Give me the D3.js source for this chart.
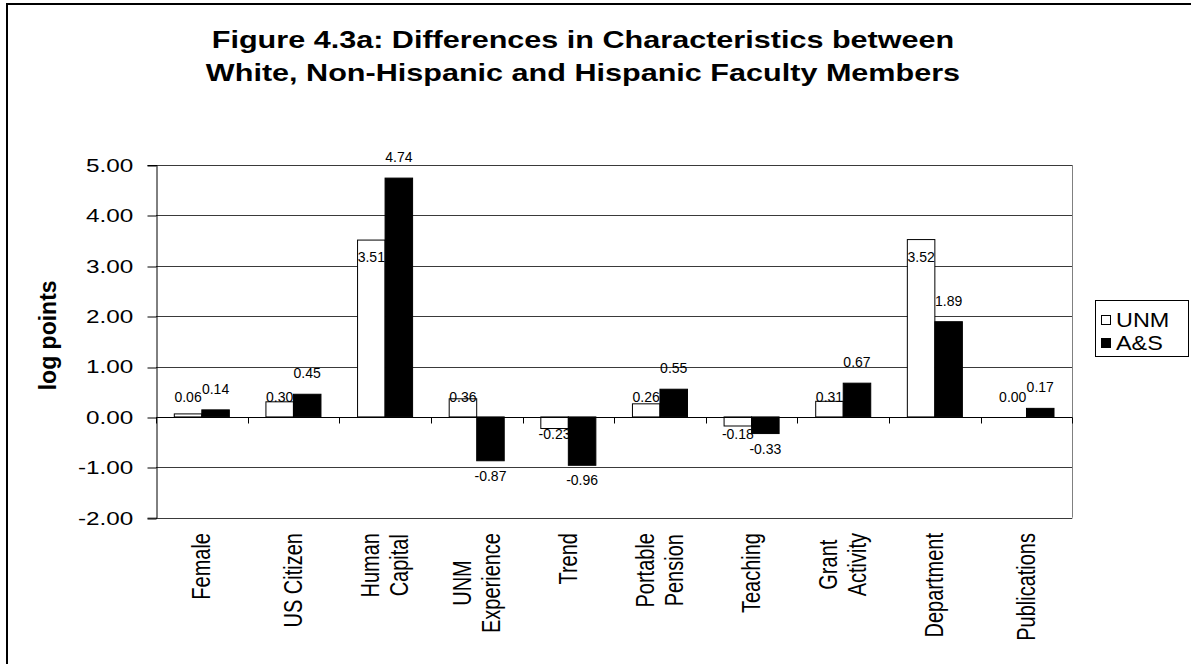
<!DOCTYPE html>
<html>
<head>
<meta charset="utf-8">
<script src="https://cdn.jsdelivr.net/npm/d3@7"></script>
<style>
  html, body { margin: 0; padding: 0; background: #fff; }
  svg { display: block; }
  text { font-family: "Liberation Sans", Arial, sans-serif; fill: #000; }
</style>
</head>
<body>
<svg id="chart" width="1191" height="664"></svg>
<script>
// Characteristic categories (each entry is the list of label lines)
const categories = ["Female", "US Citizen", "Human Capital", "UNM Experience", "Trend",
  "Portable Pension", "Teaching", "Grant Activity", "Department", "Publications"];
const categoryLines = [["Female"], ["US Citizen"], ["Human", "Capital"], ["UNM", "Experience"], ["Trend"],
  ["Portable", "Pension"], ["Teaching"], ["Grant", "Activity"], ["Department"], ["Publications"]];

// Series
const seriesNames = ["UNM", "A&S"];
const unmValues = [0.06, 0.30, 3.51, 0.36, -0.23, 0.26, -0.18, 0.31, 3.52, 0.00];
const asValues  = [0.14, 0.45, 4.74, -0.87, -0.96, 0.55, -0.33, 0.67, 1.89, 0.17];

// Value axis ticks
const yTicks = [-2, -1, 0, 1, 2, 3, 4, 5];

const titleLines = ["Figure 4.3a: Differences in Characteristics between",
                    "White, Non-Hispanic and Hispanic Faculty Members"];
const yAxisTitle = "log points";

const svg = d3.select("#chart");
const fmt = v => d3.format(".2f")(v).replace("\u2212", "-");

// text drawn with a horizontal stretch around its anchor point
function stext(g, x, y, str, o) {
  const tf = `translate(${x},${y}) scale(${o.sx || 1},1)` + (o.rotate ? ` rotate(${o.rotate})` : "");
  return g.append("text")
    .attr("transform", tf)
    .attr("text-anchor", o.anchor || "start")
    .attr("font-size", o.size)
    .attr("font-weight", o.weight || "normal")
    .text(str);
}

// outer chart frame
svg.append("rect")
  .attr("x", 7).attr("y", 4).attr("width", 1200).attr("height", 700)
  .attr("fill", "#fff").attr("stroke", "#000").attr("stroke-width", 2);

// title
titleLines.forEach((line, i) => {
  stext(svg, 583, 47.5 + i * 33.3, line, { size: 23, weight: "bold", anchor: "middle", sx: 1.33 });
});

// plot area
const plot = { left: 156, right: 1072.3, top: 165, bottom: 517.7 };

const y = d3.scaleLinear().domain([d3.min(yTicks), d3.max(yTicks)]).range([plot.bottom, plot.top]);
const x = d3.scaleBand().domain(categories).range([plot.left, plot.right]).padding(0);
const xs = d3.scaleBand().domain(seriesNames).range([0, x.bandwidth()])
  .paddingInner(0).paddingOuter(0.665);

const g = svg.append("g");

// gridlines
g.append("g").selectAll("line").data(yTicks).join("line")
  .attr("x1", plot.left).attr("x2", plot.right)
  .attr("y1", d => Math.round(y(d)) + 0.5).attr("y2", d => Math.round(y(d)) + 0.5)
  .attr("stroke", "#3a3a3a").attr("stroke-width", 1);

// plot area right border
g.append("line")
  .attr("x1", Math.round(plot.right) + 0.5).attr("x2", Math.round(plot.right) + 0.5)
  .attr("y1", plot.top).attr("y2", plot.bottom)
  .attr("stroke", "#808080").attr("stroke-width", 1);

// value axis
const yAxis = d3.axisLeft(y).tickValues(yTicks).tickSize(9).tickFormat("");
const yAxisG = g.append("g")
  .attr("transform", `translate(${Math.round(plot.left) + 0.5},0)`)
  .call(yAxis);
yAxisG.select(".domain").attr("stroke", "#000");
yAxisG.selectAll(".tick line").attr("stroke", "#000")
  .attr("transform", d => `translate(0,${Math.round(y(d)) + 0.5 - y(d)})`);
yTicks.forEach(t => {
  stext(g, 133.3, y(t) + 6.8, fmt(t), { size: 18, anchor: "end", sx: 1.35 });
});

// axis title
stext(g, 56, (plot.top + plot.bottom) / 2 - 6, yAxisTitle, { size: 23, weight: "bold", anchor: "middle", rotate: -90, sx: 1.0 });

// bars
const series = [
  { name: "UNM", values: unmValues, fill: "#fff" },
  { name: "A&S", values: asValues, fill: "#000" }
];
series.forEach(s => {
  g.append("g").selectAll("rect").data(categories).join("rect")
    .attr("x", (c) => x(c) + xs(s.name))
    .attr("width", xs.bandwidth())
    .attr("y", (c, i) => y(Math.max(0, s.values[i])))
    .attr("height", (c, i) => Math.abs(y(s.values[i]) - y(0)))
    .attr("fill", s.fill)
    .attr("stroke", "#000").attr("stroke-width", 1);
});

// category axis on the zero line
const y0 = y(0);
const yZero = Math.round(y0) + 0.5;
g.append("line").attr("x1", plot.left).attr("x2", plot.right)
  .attr("y1", yZero).attr("y2", yZero).attr("stroke", "#000").attr("stroke-width", 1.2);
const boundaries = d3.range(categories.length + 1).map(i => plot.left + i * x.step());
g.append("g").selectAll("line").data(boundaries).join("line")
  .attr("x1", d => Math.round(d) + 0.5).attr("x2", d => Math.round(d) + 0.5)
  .attr("y1", yZero).attr("y2", yZero + 6)
  .attr("stroke", "#000");

// data labels
const labelG = g.append("g");
categories.forEach((c, i) => {
  const v1 = unmValues[i];
  const cx1 = x(c) + xs("UNM") + xs.bandwidth() / 2;
  const by1 = v1 >= 0 ? Math.min(y(v1) + 22, y0 - 15) : Math.max(y(v1) - 4, y0 + 22);
  stext(labelG, cx1, by1, fmt(v1), { size: 14, anchor: "middle" });

  const v2 = asValues[i];
  const cx2 = x(c) + xs("A&S") + xs.bandwidth() / 2;
  const by2 = v2 >= 0 ? y(v2) - 16 : y(v2) + 20;
  stext(labelG, cx2, by2, fmt(v2), { size: 14, anchor: "middle" });
});

// category labels (rotated, stacked lines centred on each category)
const xlSize = 20, xlSx = 1.3, lineGap = 29;
const measure = svg.append("text").attr("font-size", xlSize).attr("visibility", "hidden");
categories.forEach((c, i) => {
  const lines = categoryLines[i];
  const lens = lines.map(l => { measure.text(l); return measure.node().getComputedTextLength(); });
  const maxLen = d3.max(lens);
  const cx = x(c) + x.bandwidth() / 2;
  lines.forEach((l, j) => {
    const off = (j - (lines.length - 1) / 2) * lineGap;
    const bx = cx + off + 0.716 * xlSize * xlSx / 2 - 1;
    stext(g, bx, 533 + maxLen / 2, l, { size: xlSize, anchor: "middle", rotate: -90, sx: xlSx });
  });
});
measure.remove();

// legend
const legend = svg.append("g");
legend.append("rect")
  .attr("x", 1095.5).attr("y", 300.5).attr("width", 93).attr("height", 56)
  .attr("fill", "#fff").attr("stroke", "#000").attr("stroke-width", 1);
series.forEach((s, i) => {
  const cy = 320 + i * 23;
  legend.append("rect")
    .attr("x", 1101.5).attr("y", cy - 4.5).attr("width", 9).attr("height", 9)
    .attr("fill", s.fill).attr("stroke", "#000").attr("stroke-width", 1);
  stext(legend, 1116, cy + 7, s.name, { size: 19.5, sx: 1.2 });
});
</script>
</body>
</html>
